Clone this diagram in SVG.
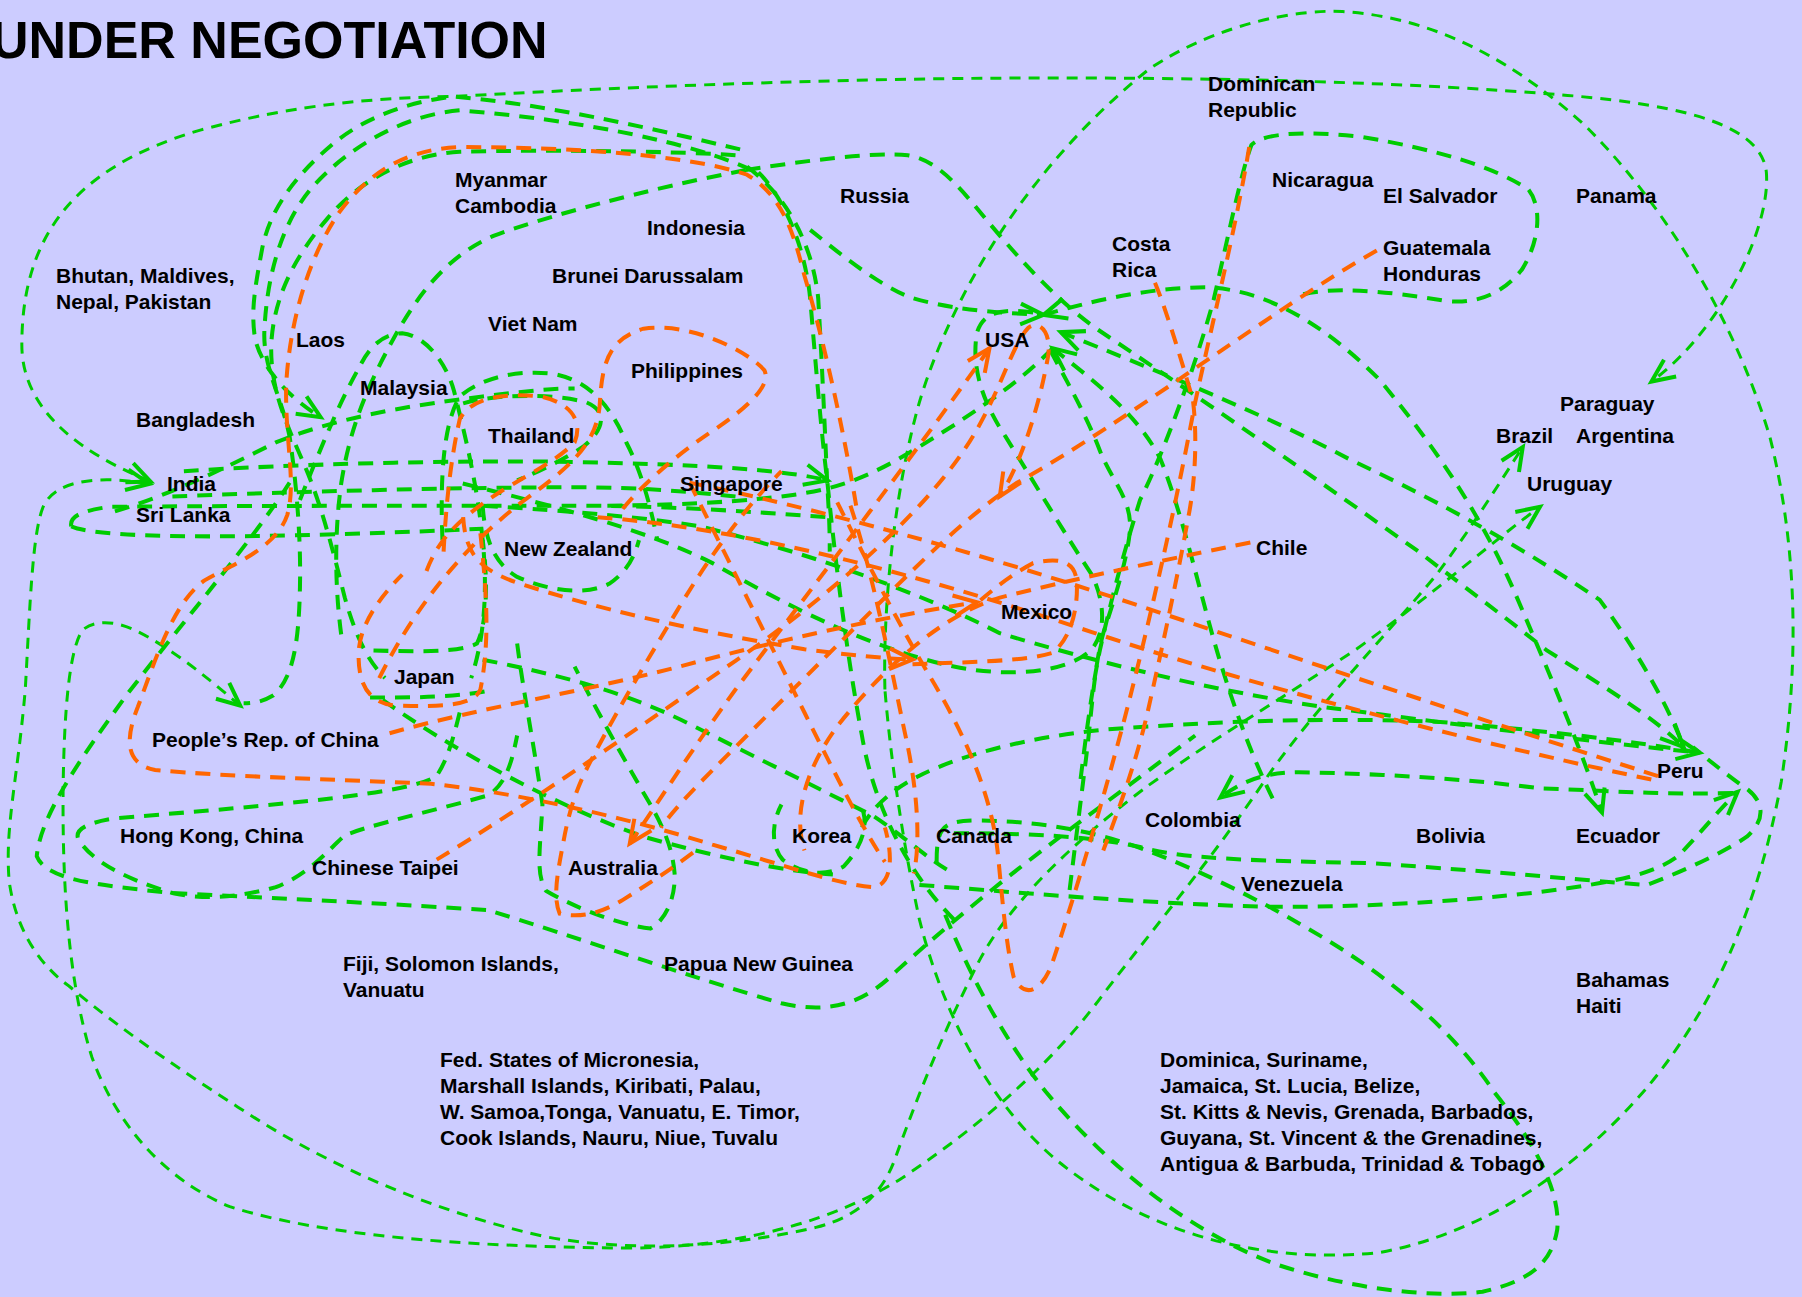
<svg xmlns="http://www.w3.org/2000/svg" width="1802" height="1297" viewBox="0 0 1802 1297">
<style>
.g{fill:none;stroke:#00cc00;stroke-width:3.5;stroke-dasharray:13 8.7}
.t{fill:none;stroke:#00cc00;stroke-width:2.6;stroke-dasharray:9.6 7}
.o{fill:none;stroke:#ff6600;stroke-width:3.5;stroke-dasharray:13 8.7}
.ga{marker-end:url(#ag)}
.gs{marker-start:url(#ag)}
.oa{marker-end:url(#ao)}
.os{marker-start:url(#ao)}
text{font-family:"Liberation Sans",Arial,Helvetica,sans-serif;font-weight:bold;font-size:21px;fill:#000}
.title{font-size:52px}
</style>
<defs>
<marker id="ag" markerUnits="userSpaceOnUse" orient="auto-start-reverse" viewBox="-26 -15 30 30" markerWidth="30" markerHeight="30" refX="0" refY="0" overflow="visible"><path d="M-20,-9 L0,0 L-20,9" fill="none" stroke="#00cc00" stroke-width="3.5"/></marker>
<marker id="ao" markerUnits="userSpaceOnUse" orient="auto-start-reverse" viewBox="-26 -15 30 30" markerWidth="30" markerHeight="30" refX="0" refY="0" overflow="visible"><path d="M-20,-9 L0,0 L-20,9" fill="none" stroke="#ff6600" stroke-width="3.5"/></marker>
</defs>
<rect width="1802" height="1297" fill="#ccccff"/>
<g id="connectors" transform="scale(1.14923)">
<path class="t ga gs" d="M131,419 C75,396 19,360 19,300 C19,205 65,145 175,113 C260,90 330,85 394,84 C520,77 700,69 870,68 C1050,67 1220,71 1364,83 C1470,92 1533,110 1537,150 C1541,200 1495,290 1437,332"/>
<path class="t ga gs" d="M130,421 C90,414 50,416 38,440 C28,462 26,530 22,600 C15,680 4,720 8,767 C14,810 35,840 60,858 C110,900 170,940 230,978 C300,1020 380,1055 474,1076 C560,1092 650,1082 710,1068 C750,1058 770,1035 780,1005 C800,950 820,900 850,840 C880,780 950,720 1000,683 C1060,640 1120,605 1180,565 C1250,515 1300,470 1340,441"/>
<path class="t ga gs" d="M209,614 C190,598 160,572 130,555 C105,540 85,538 72,548 C60,565 56,620 55,680 C54,760 58,850 80,920 C100,975 140,1025 200,1050 C280,1075 400,1085 549,1086 C650,1085 730,1060 785,1025 C860,975 920,920 960,865 C1010,800 1060,740 1104,674 C1150,610 1200,560 1250,500 C1280,460 1305,420 1325,389"/>
<path class="t" d="M770,600 C768,520 780,420 800,350 C830,250 900,140 1000,60 C1060,20 1130,8 1168,10 C1250,15 1320,55 1380,110 C1450,180 1510,280 1540,380 C1565,480 1565,580 1550,680 C1530,790 1490,880 1430,950 C1360,1030 1280,1075 1200,1090 C1100,1100 1000,1075 920,1010 C860,960 820,880 800,800 C785,730 775,660 770,600"/>
<path class="g ga" d="M644,130 C560,110 470,90 394,84 C360,88 320,100 290,125 C260,150 235,180 228,217 C222,250 218,270 222,295 C228,320 250,345 279,363"/>
<path class="g" d="M654,148 C600,123 500,104 400,96 C350,100 300,130 270,165 C245,195 232,240 230,289 C229,320 245,345 252,380 C258,420 262,470 261,511 C260,560 255,590 238,605 C228,611 220,612 212,612"/>
<path class="g" d="M640,135 C600,132 480,130 400,132 C350,135 310,160 285,190 C255,225 238,260 236,300 C235,340 250,370 265,405 C280,440 290,480 300,520 C310,555 320,575 335,590"/>
<path class="g" d="M649,148 C560,165 470,190 430,205 C390,222 365,255 345,290 C320,335 305,370 297,420 C290,470 292,520 298,560"/>
<path class="g ga" d="M649,148 C700,140 760,132 790,135 C820,140 840,170 870,205 C900,240 930,270 960,290 C1050,350 1150,420 1233,479 C1280,515 1320,545 1346,566 C1400,600 1440,625 1465,650"/>
<path class="g" d="M660,150 C680,170 700,210 705,260 C710,320 715,380 720,420 C725,470 735,560 750,640 C760,700 790,760 830,800"/>
<path class="g" d="M650,145 C690,175 708,220 712,260 C716,330 718,380 720,425 C722,455 722,470 722,480"/>
<path class="g ga gs" d="M908,274 C950,262 1000,250 1050,250 C1100,252 1150,280 1200,330 C1250,390 1290,450 1320,520 C1350,590 1375,650 1394,707"/>
<path class="g gs" d="M923,289 C1000,320 1100,360 1175,400 C1260,440 1330,480 1392,522 C1420,560 1450,610 1465,650"/>
<path class="g gs" d="M916,303 C950,330 990,360 1010,400 C1030,450 1045,520 1060,570 C1075,620 1090,660 1110,700"/>
<path class="g" d="M899,272 C870,268 855,272 850,290 C845,320 855,350 875,380 C900,420 930,470 950,500 C962,525 962,550 950,565 C930,585 880,590 830,580 C760,565 690,530 620,490 C560,460 480,440 400,420"/>
<path class="g ga" d="M705,200 C730,220 760,245 790,258 C820,268 860,272 908,274"/>
<path class="g" d="M916,303 C890,330 860,350 830,370 C790,395 760,415 720,425 C680,435 600,440 520,440"/>
<path class="g" d="M914,305 C930,335 946,363 957,392 C968,420 986,435 983,464 C980,490 970,520 960,551 C952,580 950,620 945,660 C940,700 935,740 930,780"/>
<path class="g ga" d="M160,410 C250,404 400,400 500,402 C600,404 680,408 720,418"/>
<path class="g" d="M150,432 C250,428 400,424 500,424 C560,424 600,428 640,432"/>
<path class="g" d="M62,458 C60,448 75,444 95,441 C200,440 400,440 500,440 C580,440 650,445 720,450"/>
<path class="g" d="M62,458 C80,466 150,468 250,466 C330,464 380,462 420,460"/>
<path class="g" d="M100,445 C150,430 200,405 240,385 C300,360 380,350 420,345 C460,340 480,338 500,338"/>
<path class="g" d="M261,435 C275,400 295,350 313,319 C322,300 335,290 350,290 C370,292 388,315 395,340 C405,380 415,420 420,470 C425,520 420,560 410,590"/>
<path class="g" d="M385,470 C383,420 385,370 400,345 C420,328 450,322 480,325 C510,330 530,350 545,385 C558,410 566,440 572,470"/>
<path class="g" d="M403,351 C430,343 480,342 510,350 C530,358 525,375 507,389 C490,400 470,410 450,418"/>
<path class="g" d="M420,440 C422,470 430,490 450,502 C480,515 510,518 530,508 C545,498 552,485 556,470"/>
<path class="g" d="M325,566 C360,567 400,568 415,560 C425,540 424,500 420,470"/>
<path class="g" d="M322,607 C360,607 400,607 430,600"/>
<path class="g" d="M333,609 C390,650 480,700 560,728 C620,745 680,758 725,761"/>
<path class="g" d="M420,574 C480,586 540,600 600,630 C660,660 720,690 760,710 C790,730 810,750 830,760"/>
<path class="g" d="M252,420 C220,470 160,540 110,605 C70,660 35,710 32,745 C40,765 80,770 150,777 C250,782 350,787 425,792 C500,815 600,850 680,873 C720,882 750,875 780,845 C830,800 880,760 920,730 C960,700 1000,670 1040,640"/>
<path class="g" d="M400,620 C395,640 390,660 380,675 C360,690 250,700 100,712 C75,716 65,722 68,730 C80,750 110,765 150,777 C180,784 210,780 240,772 C270,760 285,740 300,727 C320,718 380,705 425,692 C440,682 445,665 450,640"/>
<path class="g" d="M450,560 C455,600 465,650 472,700 C470,740 466,760 475,775 C500,790 540,805 566,808 C580,800 588,780 587,760 C585,735 575,715 560,690 C540,655 520,620 500,580"/>
<path class="g" d="M751,705 C755,720 750,737 734,754 C720,762 700,762 681,748 C670,735 672,715 680,700"/>
<path class="g" d="M815,750 C815,720 820,714 850,714 C900,714 950,722 998,740 C1050,760 1100,785 1150,815 C1200,845 1260,890 1300,950 C1340,1000 1358,1040 1355,1070 C1350,1100 1330,1115 1290,1124 C1240,1130 1170,1120 1110,1100 C1030,1070 960,1010 910,950 C870,900 840,840 820,790"/>
<path class="g" d="M830,725 C900,725 950,728 992,737 C1030,748 1100,749 1190,751 C1300,758 1400,768 1433,770 C1460,760 1500,742 1520,728 C1538,712 1535,695 1515,683 C1500,672 1485,660 1473,650"/>
<path class="g ga" d="M800,770 C900,778 1000,786 1100,789 C1200,790 1300,782 1364,773 C1410,766 1440,760 1460,745 C1480,725 1495,705 1512,689"/>
<path class="g ga" d="M750,720 C760,700 780,685 800,675 C840,655 900,641 960,635 C1050,628 1150,624 1250,628 C1350,636 1420,645 1479,655"/>
<path class="g ga" d="M1508,690 C1450,692 1400,688 1340,686 C1280,678 1200,673 1130,672 C1100,672 1080,680 1062,694"/>
<path class="g" d="M1134,256 C1160,250 1200,252 1259,262 C1290,265 1310,252 1324,235 C1340,210 1342,180 1330,165 C1300,145 1250,130 1184,119 C1140,114 1100,115 1089,126 C1080,150 1070,200 1056,261 C1040,320 1010,400 992,435 C975,490 965,530 957,566 C950,600 945,640 940,680"/>
<path class="g" d="M420,440 C500,445 560,450 609,458 C700,480 800,515 870,551 C950,575 1050,600 1150,615 C1250,628 1380,645 1479,655"/>
<path class="o" d="M745,440 C735,380 718,300 700,240 C690,200 680,170 650,152 C600,135 500,128 400,128 C345,130 315,158 295,185 C268,225 252,280 249,335 C248,385 258,420 250,448 C240,478 200,492 178,505 C150,525 135,575 120,615 C108,645 110,665 135,670 C200,676 290,678 375,682 C450,690 540,710 620,735 C680,752 730,770 760,772 C775,770 778,748 770,720"/>
<path class="o" d="M330,590 C360,530 400,480 450,440 C490,410 520,390 522,350 C524,315 530,295 560,286 C600,280 650,305 665,322 C672,335 650,355 620,375 C590,395 560,420 540,445"/>
<path class="o oa os" d="M861,303 C800,390 700,520 640,600 C600,655 575,695 548,734"/>
<path class="o oa" d="M380,748 C460,700 560,630 640,575 C720,520 800,450 840,390 C870,345 880,300 895,285 C905,278 915,290 912,310 C905,350 890,400 870,432"/>
<path class="o" d="M1088,472 C1000,490 930,505 870,520 C820,535 770,580 730,630 C700,670 690,710 700,740"/>
<path class="o" d="M600,420 C700,440 850,480 1000,530 C1150,580 1300,630 1445,676"/>
<path class="o" d="M520,450 C650,460 800,500 950,550 C1100,600 1300,650 1445,680"/>
<path class="o" d="M1087,128 C1075,200 1055,280 1040,350 C1025,430 1005,520 985,600 C965,680 935,780 915,840 C905,865 890,868 882,850 C875,820 872,780 868,740 C862,690 840,640 810,590 C780,540 750,480 725,430"/>
<path class="o" d="M1005,246 C1015,270 1030,320 1038,348 C1042,380 1040,420 1034,450 C1025,500 1012,560 1001,609 C990,660 975,700 960,740"/>
<path class="o" d="M1198,218 C1150,245 1100,280 1042,319 C990,355 930,395 885,420 C840,450 800,490 760,530 C720,570 680,610 640,650 C610,680 590,700 575,720"/>
<path class="o" d="M386,480 C388,440 392,400 400,365 C410,345 440,342 470,345 C495,350 508,365 500,385 C485,400 465,410 440,425 C400,450 380,470 370,500"/>
<path class="o oa" d="M403,450 C405,480 415,495 450,507 C520,530 600,548 700,565 C740,570 770,573 794,574"/>
<path class="o oa" d="M339,638 C420,615 520,600 610,575 C700,552 780,535 850,524"/>
<path class="o" d="M418,464 C424,520 426,560 418,600 C412,615 380,615 345,614 C320,612 312,595 312,570 C312,545 330,520 350,500"/>
<path class="o" d="M603,742 C583,757 566,768 542,783 C522,795 505,799 487,795 C481,781 485,760 490,734 C494,711 500,690 510,670 C530,630 560,580 590,530 C620,480 650,440 680,410"/>
<path class="o" d="M600,420 C630,480 670,560 700,620 C730,680 750,720 770,750"/>
<path class="o" d="M740,440 C760,500 775,580 790,650 C800,700 800,740 795,760"/>
<path class="o" d="M794,578 C840,576 890,576 916,568 C932,555 938,530 937,507 C936,490 925,484 899,490 C880,500 865,512 850,525"/>
</g>
<g id="title"><text class="title" x="-9" y="58">UNDER NEGOTIATION</text></g>
<g id="n-myanmar"><text x="455" y="187">Myanmar</text><text x="455" y="213">Cambodia</text></g>
<g id="n-russia"><text x="840" y="203">Russia</text></g>
<g id="n-indonesia"><text x="647" y="235">Indonesia</text></g>
<g id="n-brunei"><text x="552" y="283">Brunei Darussalam</text></g>
<g id="n-bhutan"><text x="56" y="283">Bhutan, Maldives,</text><text x="56" y="309">Nepal, Pakistan</text></g>
<g id="n-vietnam"><text x="488" y="331">Viet Nam</text></g>
<g id="n-laos"><text x="296" y="347">Laos</text></g>
<g id="n-philippines"><text x="631" y="378">Philippines</text></g>
<g id="n-malaysia"><text x="360" y="395">Malaysia</text></g>
<g id="n-bangladesh"><text x="136" y="427">Bangladesh</text></g>
<g id="n-thailand"><text x="488" y="443">Thailand</text></g>
<g id="n-india"><text x="167" y="491">India</text></g>
<g id="n-singapore"><text x="680" y="491">Singapore</text></g>
<g id="n-srilanka"><text x="136" y="522">Sri Lanka</text></g>
<g id="n-newzealand"><text x="504" y="556">New Zealand</text></g>
<g id="n-dominicanrep"><text x="1208" y="91">Dominican</text><text x="1208" y="117">Republic</text></g>
<g id="n-nicaragua"><text x="1272" y="187">Nicaragua</text></g>
<g id="n-elsalvador"><text x="1383" y="203">El Salvador</text></g>
<g id="n-panama"><text x="1576" y="203">Panama</text></g>
<g id="n-costarica"><text x="1112" y="251">Costa</text><text x="1112" y="277">Rica</text></g>
<g id="n-guatemala"><text x="1383" y="255">Guatemala</text><text x="1383" y="281">Honduras</text></g>
<g id="n-usa"><text x="985" y="347">USA</text></g>
<g id="n-paraguay"><text x="1560" y="411">Paraguay</text></g>
<g id="n-brazil"><text x="1496" y="443">Brazil</text></g>
<g id="n-argentina"><text x="1576" y="443">Argentina</text></g>
<g id="n-uruguay"><text x="1527" y="491">Uruguay</text></g>
<g id="n-chile"><text x="1256" y="555">Chile</text></g>
<g id="n-mexico"><text x="1001" y="619">Mexico</text></g>
<g id="n-japan"><text x="394" y="684">Japan</text></g>
<g id="n-china"><text x="152" y="747">People’s Rep. of China</text></g>
<g id="n-hongkong"><text x="120" y="843">Hong Kong, China</text></g>
<g id="n-taipei"><text x="312" y="875">Chinese Taipei</text></g>
<g id="n-australia"><text x="568" y="875">Australia</text></g>
<g id="n-korea"><text x="792" y="843">Korea</text></g>
<g id="n-canada"><text x="936" y="843">Canada</text></g>
<g id="n-colombia"><text x="1145" y="827">Colombia</text></g>
<g id="n-bolivia"><text x="1416" y="843">Bolivia</text></g>
<g id="n-ecuador"><text x="1576" y="843">Ecuador</text></g>
<g id="n-peru"><text x="1657" y="778">Peru</text></g>
<g id="n-venezuela"><text x="1241" y="891">Venezuela</text></g>
<g id="n-fiji"><text x="343" y="971">Fiji, Solomon Islands,</text><text x="343" y="997">Vanuatu</text></g>
<g id="n-png"><text x="664" y="971">Papua New Guinea</text></g>
<g id="n-micronesia"><text x="440" y="1067">Fed. States of Micronesia,</text><text x="440" y="1093">Marshall Islands, Kiribati, Palau,</text><text x="440" y="1119">W. Samoa,Tonga, Vanuatu, E. Timor,</text><text x="440" y="1145">Cook Islands, Nauru, Niue, Tuvalu</text></g>
<g id="n-bahamas"><text x="1576" y="987">Bahamas</text><text x="1576" y="1013">Haiti</text></g>
<g id="n-caribbean"><text x="1160" y="1067">Dominica, Suriname,</text><text x="1160" y="1093">Jamaica, St. Lucia, Belize,</text><text x="1160" y="1119">St. Kitts &amp; Nevis, Grenada, Barbados,</text><text x="1160" y="1145">Guyana, St. Vincent &amp; the Grenadines,</text><text x="1160" y="1171">Antigua &amp; Barbuda, Trinidad &amp; Tobago</text></g>
</svg>
